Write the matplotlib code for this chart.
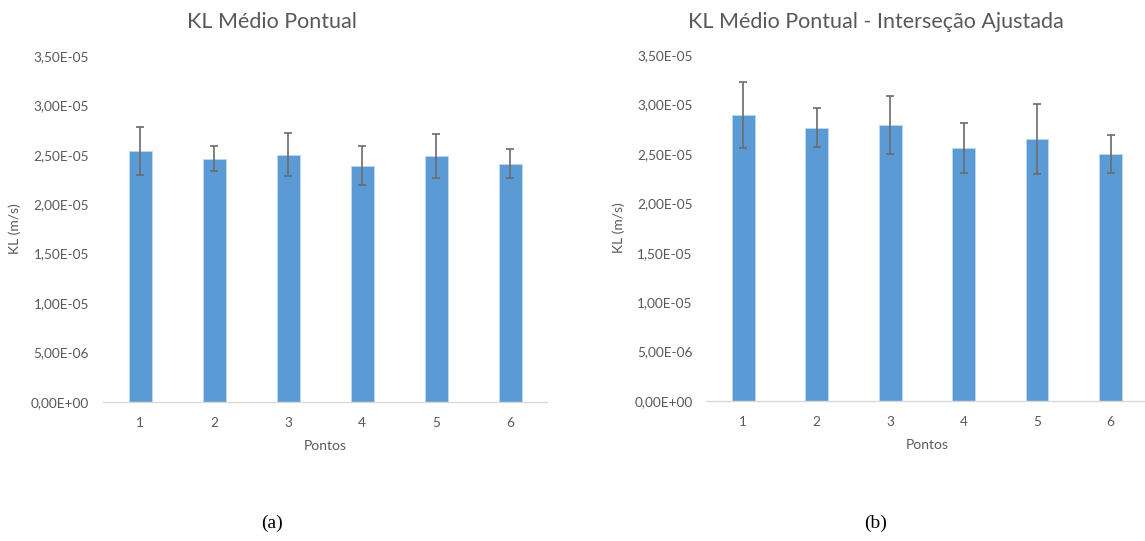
import numpy as np
import matplotlib.pyplot as plt
from matplotlib.ticker import FuncFormatter, MultipleLocator

plt.rcParams['font.family'] = ['Lato', 'DejaVu Sans']

# ---------------------------------------------------------------------
# data (units: m/s)
# ---------------------------------------------------------------------
pontos = ["1", "2", "3", "4", "5", "6"]

kl_pontual = [2.54e-5, 2.46e-5, 2.50e-5, 2.39e-5, 2.49e-5, 2.41e-5]
kl_pontual_err = [0.24e-5, 0.125e-5, 0.22e-5, 0.20e-5, 0.225e-5, 0.145e-5]

kl_ajustado = [2.89e-5, 2.765e-5, 2.79e-5, 2.56e-5, 2.65e-5, 2.50e-5]
kl_ajustado_err = [0.335e-5, 0.195e-5, 0.29e-5, 0.255e-5, 0.355e-5, 0.195e-5]

titles = ["KL Médio Pontual", "KL Médio Pontual - Interseção Ajustada"]
captions = ["(a)", "(b)"]

bar_color = "#5B9BD5"
text_color = "#595959"


def sci_comma(v, pos):
    return f"{v:.2E}".replace(".", ",")


fig = plt.figure(figsize=(11.45, 5.41), dpi=100)
ax_a = fig.add_axes([0.090, 0.2575, 0.388, 0.639])
ax_b = fig.add_axes([0.617, 0.2588, 0.385, 0.6396])

panels = [(ax_a, kl_pontual, kl_pontual_err),
          (ax_b, kl_ajustado, kl_ajustado_err)]

for k, (ax, vals, errs) in enumerate(panels):
    x = np.arange(len(pontos))
    ax.bar(x, vals, width=0.31, color=bar_color, edgecolor="#BDD7EE", linewidth=0.6, zorder=2)
    ax.errorbar(x, vals, yerr=errs, fmt="none", ecolor="#6B6B6B", elinewidth=1.2,
                capsize=3, capthick=1.2, zorder=3)
    ax.set_xlim(-0.5, len(pontos) - 0.5)
    ax.set_ylim(0, 3.5e-5)
    ax.yaxis.set_major_locator(MultipleLocator(5e-6))
    ax.yaxis.set_major_formatter(FuncFormatter(sci_comma))
    ax.set_xticks(x)
    ax.set_xticklabels(pontos)
    ax.tick_params(axis="both", length=0, labelsize=9.8, colors=text_color)
    ax.tick_params(axis="y", pad=10)
    ax.tick_params(axis="x", pad=11)
    for s in ["top", "right", "left"]:
        ax.spines[s].set_visible(False)
    ax.spines["bottom"].set_color("#D9D9D9")
    ax.spines["bottom"].set_linewidth(1.0)
    ax.set_xlabel("Pontos", fontsize=10, color=text_color, labelpad=8)
    ax.set_ylabel("KL (m/s)", fontsize=10, color=text_color, labelpad=7)

# chart titles are centred on the whole chart area, not on the plot area
fig.text(272 / 1145, 1 - 22 / 541, titles[0], fontsize=15.5, color=text_color, ha="center", va="center")
fig.text(876 / 1145, 1 - 22 / 541, titles[1], fontsize=15.5, color=text_color, ha="center", va="center")

fig.text(272 / 1145, 1 - 523 / 541, captions[0], family="Liberation Serif", fontsize=14, ha="center", va="center")
fig.text(876 / 1145, 1 - 523 / 541, captions[1], family="Liberation Serif", fontsize=14, ha="center", va="center")

fig.savefig("out.png", dpi=100)
